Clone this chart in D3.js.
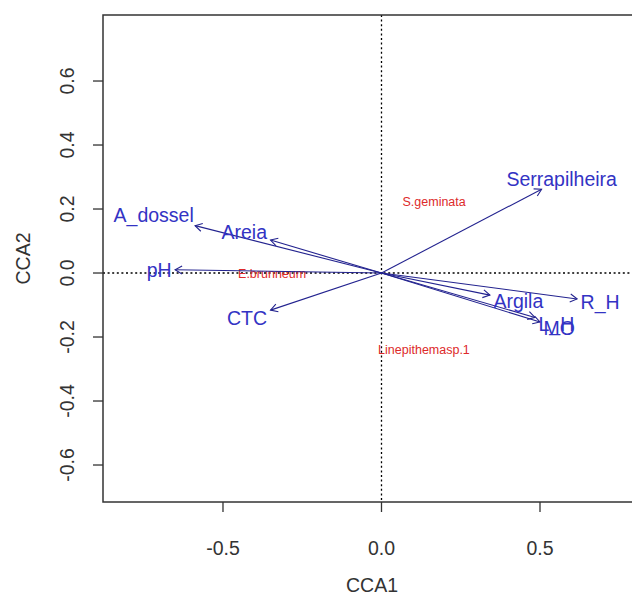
<!DOCTYPE html>
<html><head><meta charset="utf-8">
<script src="https://cdn.jsdelivr.net/npm/d3@7"></script>
<style>body{margin:0;background:#fff} svg{display:block}</style>
</head><body><svg id="c" width="632" height="599"></svg>
<script>
// ---- data ----
const envNames  = ["Serrapilheira","A_dossel","Areia","pH","CTC","Argila","R_H","L_H","MO"];
const envCCA1   = [0.505,-0.588,-0.350,-0.651,-0.350,0.342,0.617,0.484,0.500];
const envCCA2   = [0.262, 0.148, 0.103, 0.010,-0.116,-0.069,-0.081,-0.139,-0.153];
const speciesNames = ["S.geminata","E.brunneum","Linepithemasp.1"];
const speciesCCA1  = [0.166,-0.345,0.134];
const speciesCCA2  = [0.222, 0.000,-0.2375];
const xTicks = [-0.5, 0.0, 0.5];
const yTicks = [-0.6,-0.4,-0.2,0.0,0.2,0.4,0.6];
const xTitle = "CCA1", yTitle = "CCA2";

// ---- layout ----
const W = 632, H = 599;
const pL = 103, pR = 641, pT = 15, pB = 502;
const x = d3.scaleLinear().domain([-0.8785, 0.8186]).range([pL, pR]);
const y = d3.scaleLinear().domain([-0.7156, 0.8063]).range([pB, pT]);
const FONT = "'Liberation Sans', Arial, sans-serif";
const fsAxis = 19.5, fsEnv = 19.5, fsSp = 12.5;
const envText = "#3333c4", envLine = "#23238f", spCol = "#dd2a2a";
const fmt = d3.formatLocale({decimal:".", thousands:",", grouping:[3], currency:["",""], minus:"-"}).format(".1f");

const svg = d3.select("#c");
svg.append("rect").attr("width", W).attr("height", H).attr("fill", "#fff");

svg.append("clipPath").attr("id","clip").append("rect")
  .attr("x", pL).attr("y", pT).attr("width", pR-pL).attr("height", pB-pT);
const g = svg.append("g").attr("clip-path","url(#clip)");

// dotted zero lines
g.append("line").attr("x1", x(0)).attr("x2", x(0)).attr("y1", pT).attr("y2", pB)
  .attr("stroke","#000").attr("stroke-width",1.3).attr("stroke-dasharray","2,2.6");
g.append("line").attr("x1", pL).attr("x2", pR).attr("y1", y(0)).attr("y2", y(0))
  .attr("stroke","#000").attr("stroke-width",1.3).attr("stroke-dasharray","2,2.6");

// species labels
speciesNames.forEach((n,i) => {
  g.append("text").attr("x", x(speciesCCA1[i])).attr("y", y(speciesCCA2[i]) + fsSp*0.36)
    .attr("text-anchor","middle").attr("font-family",FONT).attr("font-size",fsSp)
    .attr("fill", spCol).text(n);
});

// arrows
const ox = x(0), oy = y(0);
const headLen = 8, headAng = Math.PI/6;
envNames.forEach((n,i) => {
  const hx = x(envCCA1[i]), hy = y(envCCA2[i]);
  g.append("line").attr("x1",ox).attr("y1",oy).attr("x2",hx).attr("y2",hy)
    .attr("stroke",envLine).attr("stroke-width",1.1);
  const ang = Math.atan2(hy-oy, hx-ox);
  const p = d3.path();
  p.moveTo(hx - headLen*Math.cos(ang-headAng), hy - headLen*Math.sin(ang-headAng));
  p.lineTo(hx, hy);
  p.lineTo(hx - headLen*Math.cos(ang+headAng), hy - headLen*Math.sin(ang+headAng));
  g.append("path").attr("d", p.toString()).attr("fill","none")
    .attr("stroke",envLine).attr("stroke-width",1.1);
});

// env labels (vegan ordiArrowTextXY-like placement)
envNames.forEach((n,i) => {
  const hx = x(envCCA1[i]), hy = y(envCCA2[i]);
  const t = svg.append("text").attr("font-family",FONT).attr("font-size",fsEnv)
    .attr("fill",envText).attr("text-anchor","middle").text(n);
  const w = t.node().getComputedTextLength();
  const h = fsEnv*0.72;
  const dxp = hx-ox, dyp = oy-hy;
  const b = dyp/dxp;
  let offx = Math.sign(dxp)*(w/2 + h/4);
  let offy = 0.75*h*Math.sign(dyp);
  const move = offy/b;
  if (isFinite(move) && Math.abs(move) <= Math.abs(offx)) offx = move;
  else offy = b*offx;
  const cx = hx + offx, cy = hy - offy;
  t.attr("x", cx).attr("y", cy + h/2);
});

// frame
svg.append("rect").attr("x",pL).attr("y",pT).attr("width",pR-pL).attr("height",pB-pT)
  .attr("fill","none").attr("stroke","#333").attr("stroke-width",1.5);

// x axis
const tickLen = 10;
xTicks.forEach(v => {
  svg.append("line").attr("x1",x(v)).attr("x2",x(v)).attr("y1",pB).attr("y2",pB+tickLen)
    .attr("stroke","#333").attr("stroke-width",1.3);
  svg.append("text").attr("x",x(v)).attr("y",555).attr("text-anchor","middle")
    .attr("font-family",FONT).attr("font-size",fsAxis).attr("fill","#333").text(fmt(v));
});
// y axis
yTicks.forEach(v => {
  svg.append("line").attr("x1",pL).attr("x2",pL-tickLen).attr("y1",y(v)).attr("y2",y(v))
    .attr("stroke","#333").attr("stroke-width",1.3);
  svg.append("text").attr("transform",`translate(74,${y(v)}) rotate(-90)`).attr("text-anchor","middle")
    .attr("font-family",FONT).attr("font-size",fsAxis).attr("fill","#333").text(fmt(v));
});
svg.append("text").attr("x",(pL+pR)/2).attr("y",592).attr("text-anchor","middle")
  .attr("font-family",FONT).attr("font-size",fsAxis).attr("fill","#333").text(xTitle);
svg.append("text").attr("transform",`translate(30,${(pT+pB)/2}) rotate(-90)`).attr("text-anchor","middle")
  .attr("font-family",FONT).attr("font-size",fsAxis).attr("fill","#333").text(yTitle);
</script></body></html>
